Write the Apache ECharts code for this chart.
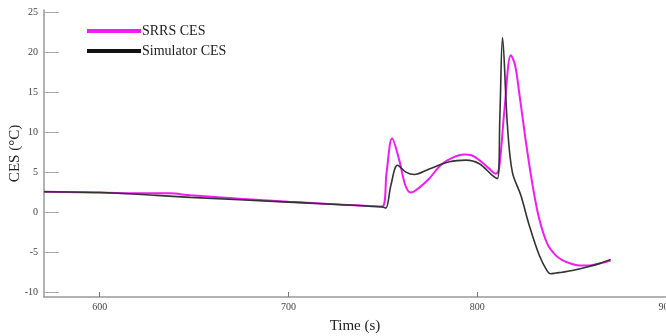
<!DOCTYPE html>
<html><head><meta charset="utf-8">
<script src="https://cdn.jsdelivr.net/npm/echarts@6/dist/echarts.min.js"></script>
<style>html,body{margin:0;padding:0;background:#fff}#c{width:666px;height:336px}</style>
</head><body><div id="c"></div>
<script>
const seriesNames = ['SRRS CES', 'Simulator CES'];
const xTicks = [600, 700, 800, 900];
const yTicks = [-10, -5, 0, 5, 10, 15, 20, 25];
const srrsTime = [570.5, 600, 625, 637, 648, 700, 749.6, 752, 754.9, 758.7, 762, 764.9, 769, 774.6, 780.7, 787, 793.1, 797, 801.1, 806, 809.9, 811.6, 814.5, 817.8, 820, 822.2, 825.8, 829.3, 832.8, 837.2, 841.6, 845.1, 848.7, 854, 859.3, 865, 870.7];
const srrsCES  = [2.55, 2.45, 2.35, 2.35, 2.1, 1.3, 0.7, 5.0, 9.2, 6.5, 3.3, 2.45, 3.0, 4.2, 5.9, 6.8, 7.2, 7.1, 6.5, 5.5, 4.8, 5.5, 13.0, 19.6, 18.4, 15.0, 8.75, 3.4, -0.8, -4.0, -5.4, -6.0, -6.35, -6.65, -6.65, -6.4, -6.05];
const simTime = [570.5, 600, 630, 648, 700, 749.8, 751.6, 754.3, 757.8, 762.2, 766.7, 774.6, 785.2, 794, 801.1, 808, 810.7, 812, 813.4, 816, 818.6, 823.1, 827.5, 832.8, 837.2, 839, 841.6, 845, 850.4, 859.3, 865, 870.7];
const simCES  = [2.55, 2.45, 2.1, 1.85, 1.25, 0.65, 0.5, 3.4, 5.85, 5.0, 4.7, 5.4, 6.3, 6.5, 6.05, 4.6, 4.2, 12.0, 21.8, 10.8, 5.0, 2.1, -1.6, -5.35, -7.4, -7.7, -7.6, -7.5, -7.3, -6.8, -6.4, -5.9];

const zip = (a, b) => a.map((v, i) => [v, b[i]]);
const font = '"Liberation Serif", "Times New Roman", serif';
const chart = echarts.init(document.getElementById('c'), null, {renderer: 'canvas'});
chart.setOption({
  animation: false,
  backgroundColor: '#fff',
  grid: {left: 44, right: 0, top: 10, bottom: 39, containLabel: false, outerBoundsMode: 'none'},
  legend: {
    orient: 'vertical', left: 82, top: 19, itemGap: 6,
    itemWidth: 54, itemHeight: 4, icon: 'rect',
    textStyle: {fontFamily: font, fontSize: 14, color: '#222', padding: [0, 0, 0, -4]},
    data: seriesNames
  },
  xAxis: {
    type: 'value', min: 570.5, max: 900,
    name: 'Time (s)', nameLocation: 'middle', nameGap: 22,
    nameTextStyle: {fontFamily: font, fontSize: 15, color: '#222'},
    axisLine: {show: true, onZero: false, lineStyle: {color: '#999', width: 1.5}},
    axisTick: {show: true, inside: true, length: 5, customValues: xTicks, lineStyle: {color: '#777'}},
    axisLabel: {customValues: xTicks, fontFamily: font, fontSize: 10, color: '#444', margin: 5},
    splitLine: {show: false}
  },
  yAxis: {
    type: 'value', min: -10.6, max: 25.25,
    name: 'CES (°C)', nameLocation: 'middle', nameGap: 21, nameMoveOverlap: false,
    nameTextStyle: {fontFamily: font, fontSize: 15, color: '#222'},
    axisLine: {show: true, onZero: false, lineStyle: {color: '#999', width: 1.5}},
    axisTick: {show: true, inside: true, length: 15, customValues: yTicks, lineStyle: {color: '#aaa'}},
    axisLabel: {customValues: yTicks, fontFamily: font, fontSize: 10, color: '#444', margin: 6},
    splitLine: {show: false}
  },
  series: [
    {name: seriesNames[0], type: 'line', data: zip(srrsTime, srrsCES), smooth: 0.35, showSymbol: false,
     color: '#f01cf0', lineStyle: {color: '#f01cf0', width: 2}},
    {name: seriesNames[1], type: 'line', data: zip(simTime, simCES), smooth: 0.35, showSymbol: false,
     color: '#111', lineStyle: {color: '#333', width: 1.6}}
  ]
});
</script></body></html>
